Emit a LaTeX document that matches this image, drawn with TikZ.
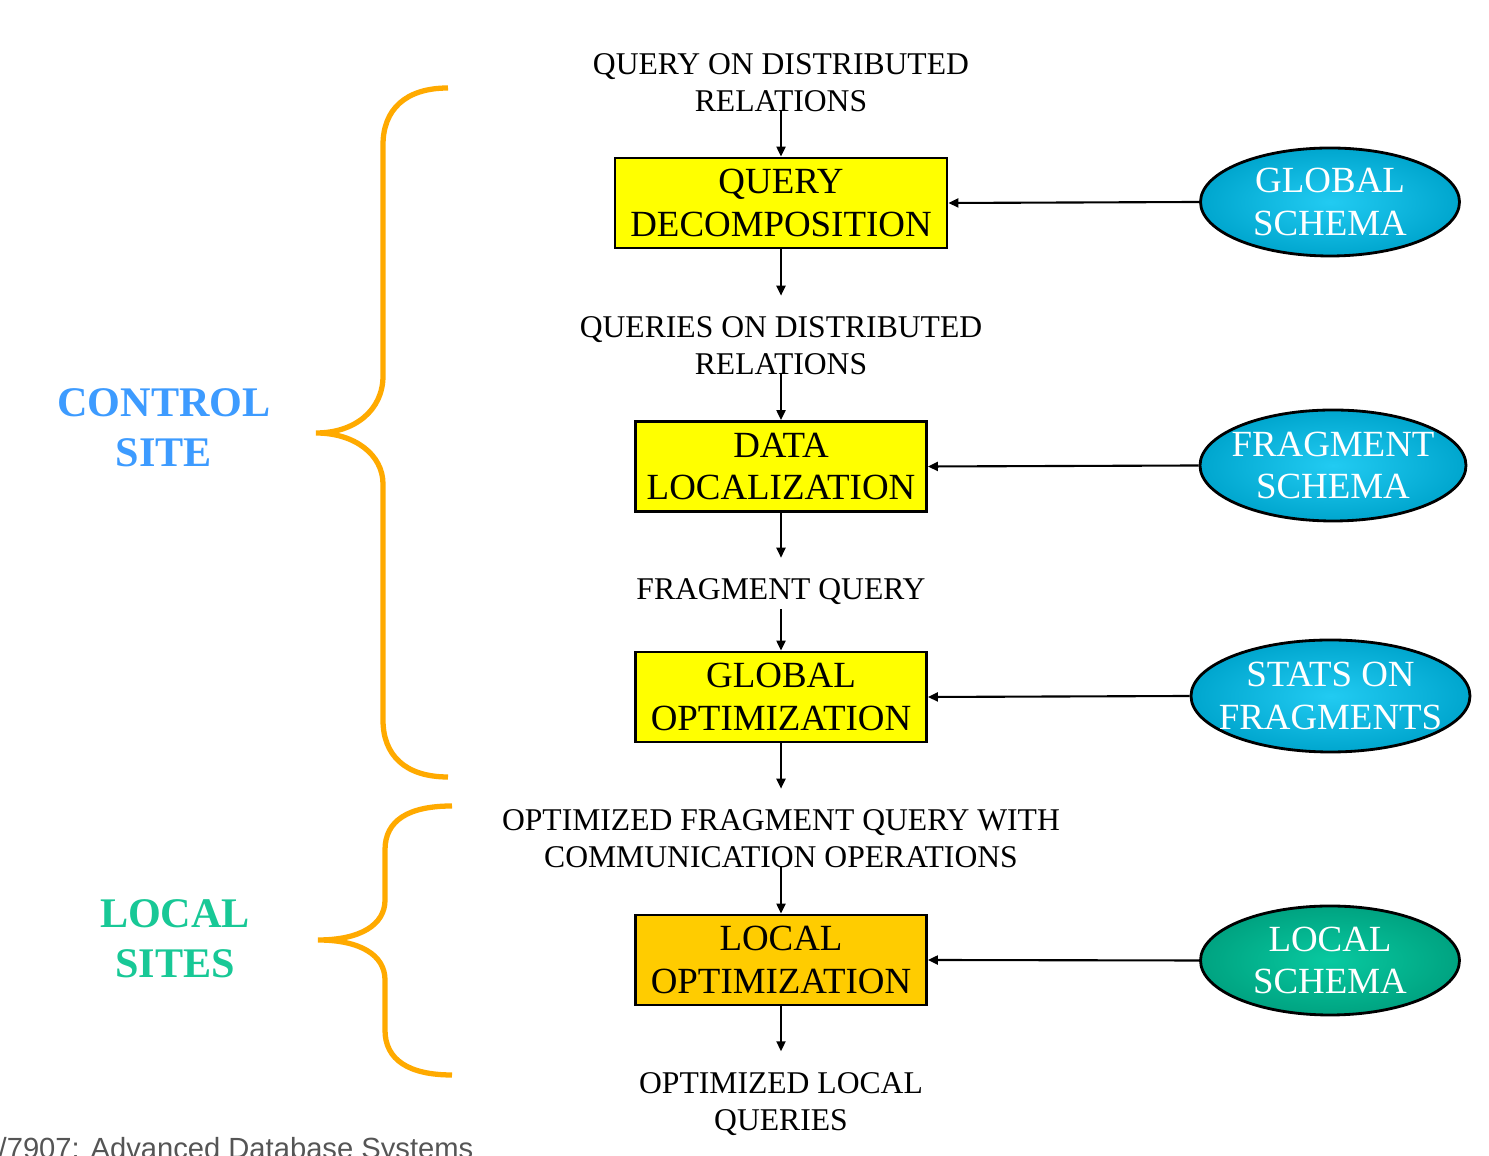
\documentclass[tikz,border=0pt]{standalone}
\usepackage{fontspec}
\setmainfont{Liberation Serif}
\newfontfamily\footfont{Liberation Sans}
\usetikzlibrary{arrows.meta, shapes.geometric}

\definecolor{boxyellow}{HTML}{FFFF00}
\definecolor{localbox}{HTML}{FFCC00}
\definecolor{schemaout}{HTML}{00A6CE}
\definecolor{schemain}{HTML}{22CBF2}
\definecolor{localout}{HTML}{00A381}
\definecolor{localin}{HTML}{08C9A0}
\definecolor{braceorange}{HTML}{FFAA00}
\definecolor{controlblue}{HTML}{3D9BFF}
\definecolor{sitegreen}{HTML}{18C896}
\definecolor{footgray}{HTML}{555555}

\begin{document}
\begin{tikzpicture}[
    procbox/.style={draw, rectangle, line width=0.8pt, fill=boxyellow, minimum width=2.91cm, minimum height=0.9cm, inner sep=0pt, align=center, font=\fontsize{10.5}{12.2}\selectfont},
    schema/.style={draw, ellipse, line width=0.8pt, inner sep=0pt, align=center, text=white, font=\fontsize{10.5}{12.2}\selectfont, shading=radial, inner color=schemain, outer color=schemaout},
    flowtext/.style={align=center, inner sep=1pt, font=\fontsize{9}{10.5}\selectfont},
    flow/.style={-{Triangle[length=1mm, width=0.9mm]}, line width=0.6pt},
    sitebrace/.style={draw=braceorange, line width=1.5pt},
    sitetext/.style={align=center, font=\bfseries\fontsize{12}{14.2}\selectfont}
]
    \useasboundingbox (0,0) rectangle (14.89,-11.56);

    % processing steps
    \node (qd) [procbox, minimum width=3.32cm] at (7.81,-2.03) {QUERY\\DECOMPOSITION};
    \node (dl) [procbox] at (7.81,-4.665) {DATA\\LOCALIZATION};
    \node (go) [procbox] at (7.81,-6.97) {GLOBAL\\OPTIMIZATION};
    \node (lo) [procbox, fill=localbox] at (7.81,-9.60) {LOCAL\\OPTIMIZATION};

    % schemas on the right
    \node (gs) [schema, minimum width=2.59cm, minimum height=1.08cm] at (13.30,-2.02) {GLOBAL\\SCHEMA};
    \node (fs) [schema, inner xsep=-0.09cm, minimum width=2.66cm, minimum height=1.11cm] at (13.33,-4.655) {FRAGMENT\\SCHEMA};
    \node (sf) [schema, inner xsep=-0.14cm, minimum width=2.79cm, minimum height=1.12cm] at (13.305,-6.96) {STATS ON\\FRAGMENTS};
    \node (ls) [schema, minimum width=2.59cm, minimum height=1.09cm, inner color=localin, outer color=localout] at (13.30,-9.605) {LOCAL\\SCHEMA};

    % queries between the steps
    \node (in) [flowtext] at (7.81,-0.83) {QUERY ON DISTRIBUTED\\RELATIONS};
    \node (qr) [flowtext] at (7.81,-3.46) {QUERIES ON DISTRIBUTED\\RELATIONS};
    \node (fq) [flowtext] at (7.81,-5.92) {FRAGMENT QUERY};
    \node (oq) [flowtext] at (7.81,-8.39) {OPTIMIZED FRAGMENT QUERY WITH\\COMMUNICATION OPERATIONS};
    \node (out) [flowtext] at (7.81,-11.04) {OPTIMIZED LOCAL\\QUERIES};

    % flow downwards
    \draw[flow, shorten <=-0.6mm] (in) -- (qd);
    \draw[flow, shorten >=1.7mm] (qd) -- (qr);
    \draw[flow, shorten <=-0.6mm] (qr) -- (dl);
    \draw[flow, shorten >=1.7mm] (dl) -- (fq);
    \draw[flow] (fq) -- (go);
    \draw[flow, shorten >=1.7mm] (go) -- (oq);
    \draw[flow, shorten <=-0.6mm] (oq) -- (lo);
    \draw[flow, shorten >=1.7mm] (lo) -- (out);

    % schemas feed the steps
    \draw[flow] (gs.west) -- (qd.east);
    \draw[flow] (fs.west) -- (dl.east);
    \draw[flow] (sf.west) -- (go.east);
    \draw[flow] (ls.west) -- (lo.east);

    % braces and sites
    \draw[sitebrace] (4.48,-0.88) .. controls (4.05,-0.88) and (3.83,-1.10) .. (3.83,-1.45)
        -- (3.83,-3.76) .. controls (3.83,-4.10) and (3.55,-4.33) .. (3.16,-4.33)
        .. controls (3.55,-4.33) and (3.83,-4.55) .. (3.83,-4.84)
        -- (3.83,-7.20) .. controls (3.83,-7.55) and (4.05,-7.77) .. (4.48,-7.77);
    \draw[sitebrace] (4.52,-8.06) .. controls (4.09,-8.06) and (3.85,-8.20) .. (3.85,-8.50)
        -- (3.85,-9.00) .. controls (3.85,-9.25) and (3.60,-9.40) .. (3.18,-9.40)
        .. controls (3.60,-9.40) and (3.85,-9.55) .. (3.85,-9.80)
        -- (3.85,-10.30) .. controls (3.85,-10.60) and (4.09,-10.75) .. (4.52,-10.75);
    \node (cs) [sitetext, text=controlblue] at (1.64,-4.28) {CONTROL\\SITE};
    \node (lsites) [sitetext, text=sitegreen] at (1.75,-9.39) {LOCAL\\SITES};

    % footer, cut by the page edge
    \node (foot) [anchor=base west, inner sep=0pt, text=footgray, font=\footfont\fontsize{8.3}{10}\selectfont] at (-0.02,-11.59) {/7907: Advanced Database Systems};
\end{tikzpicture}
\end{document}
